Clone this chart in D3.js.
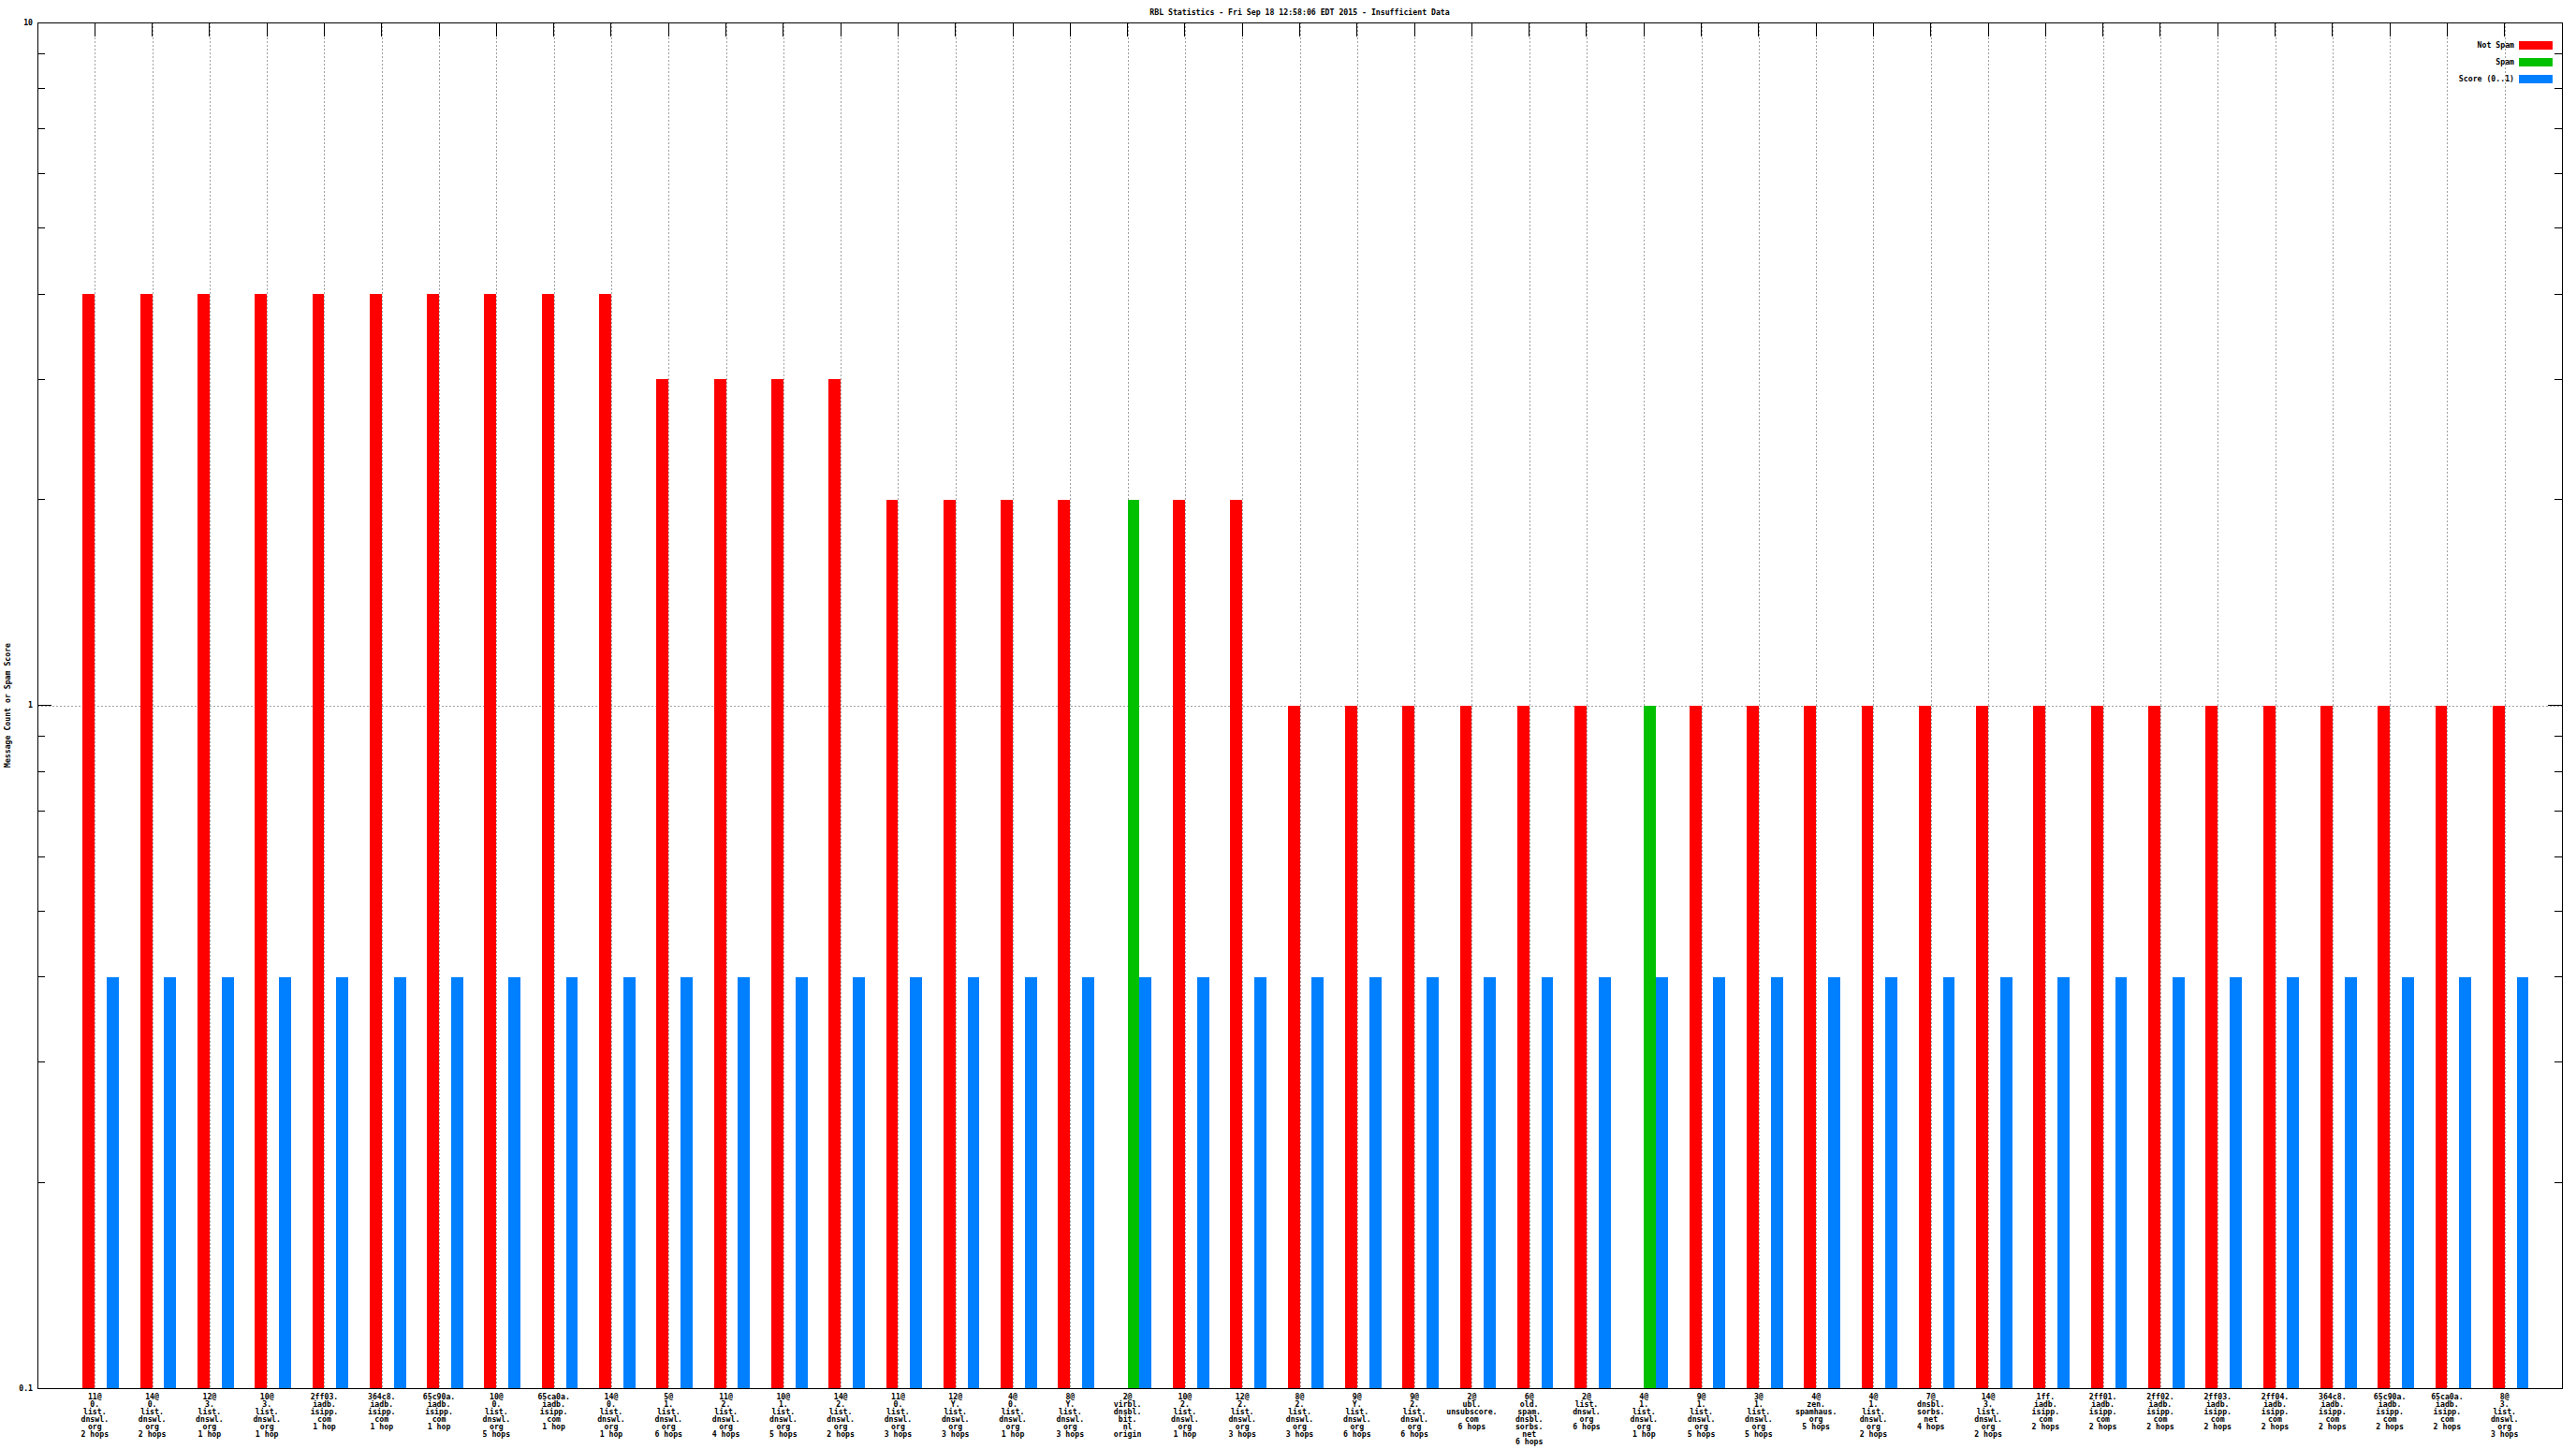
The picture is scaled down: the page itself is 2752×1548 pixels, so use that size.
<!DOCTYPE html>
<html><head><meta charset="utf-8">
<script src="https://cdn.jsdelivr.net/npm/d3@7"></script>
<style>
html,body{margin:0;padding:0;background:#fff;}
svg text{font-family:"DejaVu Sans Mono","Liberation Mono",monospace;font-size:8.2px;font-weight:bold;fill:#000;}
</style></head>
<body>
<svg id="chart" width="2752" height="1548"></svg>
<script>
const title = "RBL Statistics - Fri Sep 18 12:58:06 EDT 2015 - Insufficient Data";
const yLabel = "Message Count or Spam Score";
const seriesNames = ["Not Spam", "Spam", "Score (0..1)"];
const seriesColors = ["#ff0000", "#00c000", "#0080ff"];
const names = [
 "11@0.list.dnswl.org","14@0.list.dnswl.org","12@3.list.dnswl.org","10@3.list.dnswl.org",
 "2ff03.iadb.isipp.com","364c8.iadb.isipp.com","65c90a.iadb.isipp.com","10@0.list.dnswl.org",
 "65ca0a.iadb.isipp.com","14@0.list.dnswl.org","5@1.list.dnswl.org","11@2.list.dnswl.org",
 "10@1.list.dnswl.org","14@2.list.dnswl.org","11@0.list.dnswl.org","12@Y.list.dnswl.org",
 "4@0.list.dnswl.org","8@Y.list.dnswl.org","2@virbl.dnsbl.bit.nl","10@2.list.dnswl.org",
 "12@2.list.dnswl.org","8@2.list.dnswl.org","9@Y.list.dnswl.org","9@2.list.dnswl.org",
 "2@ubl.unsubscore.com","6@old.spam.dnsbl.sorbs.net","2@list.dnswl.org","4@1.list.dnswl.org",
 "9@1.list.dnswl.org","3@1.list.dnswl.org","4@zen.spamhaus.org","4@1.list.dnswl.org",
 "7@dnsbl.sorbs.net","14@3.list.dnswl.org","1ff.iadb.isipp.com","2ff01.iadb.isipp.com",
 "2ff02.iadb.isipp.com","2ff03.iadb.isipp.com","2ff04.iadb.isipp.com","364c8.iadb.isipp.com",
 "65c90a.iadb.isipp.com","65ca0a.iadb.isipp.com","8@3.list.dnswl.org"
];
const hops = [
 "2 hops","2 hops","1 hop","1 hop","1 hop","1 hop","1 hop","5 hops","1 hop","1 hop",
 "6 hops","4 hops","5 hops","2 hops","3 hops","3 hops","1 hop","3 hops","origin","1 hop",
 "3 hops","3 hops","6 hops","6 hops","6 hops","6 hops","6 hops","1 hop","5 hops","5 hops",
 "5 hops","2 hops","4 hops","2 hops","2 hops","2 hops","2 hops","2 hops","2 hops","2 hops",
 "2 hops","2 hops","3 hops"
];
const notSpam = [4,4,4,4,4,4,4,4,4,4,3,3,3,3,2,2,2,2,0,2,2,1,1,1,1,1,1,0,1,1,1,1,1,1,1,1,1,1,1,1,1,1,1];
const spam    = [0,0,0,0,0,0,0,0,0,0,0,0,0,0,0,0,0,0,2,0,0,0,0,0,0,0,0,1,0,0,0,0,0,0,0,0,0,0,0,0,0,0,0];
const score   = [0.4,0.4,0.4,0.4,0.4,0.4,0.4,0.4,0.4,0.4,0.4,0.4,0.4,0.4,0.4,0.4,0.4,0.4,0.4,0.4,0.4,0.4,
                 0.4,0.4,0.4,0.4,0.4,0.4,0.4,0.4,0.4,0.4,0.4,0.4,0.4,0.4,0.4,0.4,0.4,0.4,0.4,0.4,0.4];
const yMajor = [0.1, 1, 10];

const L = 40, R = 2737, T = 24, B = 1483;
const svg = d3.select("#chart");
const n = names.length;
const x = d3.scaleLinear().domain([-1, n]).range([L, R]);
const y = d3.scaleLog().domain([0.1, 10]).range([B, T]);
const step = x(1) - x(0);
const w = step * 0.21;

const yMinor = [];
for (const dec of [0.1, 1]) for (let k = 2; k <= 9; k++) yMinor.push(+(dec * k).toFixed(2));

const grid = svg.append("g").attr("stroke", "#a0a0a0").attr("stroke-width", 1).attr("stroke-dasharray", "2,2");
d3.range(n).forEach(i => {
  grid.append("line").attr("x1", Math.round(x(i)) + 0.5).attr("x2", Math.round(x(i)) + 0.5).attr("y1", T).attr("y2", B);
});
yMajor.filter(v => v > 0.1 && v < 10).forEach(v => {
  grid.append("line").attr("x1", L).attr("x2", R).attr("y1", Math.round(y(v)) + 0.5).attr("y2", Math.round(y(v)) + 0.5);
});

// axes frame and ticks
const ax = svg.append("g").attr("stroke", "#000").attr("stroke-width", 1).attr("shape-rendering", "crispEdges");
ax.append("rect").attr("x", L).attr("y", T).attr("width", R - L).attr("height", B - T).attr("fill", "none");
yMajor.forEach(v => {
  const yy = y(v);
  ax.append("line").attr("x1", L).attr("x2", L + 15).attr("y1", yy).attr("y2", yy);
  ax.append("line").attr("x1", R).attr("x2", R - 15).attr("y1", yy).attr("y2", yy);
});
yMinor.forEach(v => {
  const yy = y(v);
  ax.append("line").attr("x1", L).attr("x2", L + 8).attr("y1", yy).attr("y2", yy);
  ax.append("line").attr("x1", R).attr("x2", R - 8).attr("y1", yy).attr("y2", yy);
});
d3.range(n).forEach(i => {
  const xx = x(i);
  ax.append("line").attr("x1", xx).attr("x2", xx).attr("y1", T).attr("y2", T + 15);
});

// bars (drawn over grid and ticks)
const bars = svg.append("g").attr("shape-rendering", "crispEdges");
const series = [notSpam, spam, score];
const offsets = [-1, 0, 1];
series.forEach((arr, s) => {
  bars.selectAll(null).data(arr.map((v, i) => ({v, i})).filter(d => d.v > 0)).enter().append("rect")
    .attr("x", d => x(d.i) + offsets[s] * w)
    .attr("width", w)
    .attr("y", d => y(d.v))
    .attr("height", d => y(0.1) - y(d.v) - 0.5)
    .attr("fill", seriesColors[s]);
});

// y tick labels
svg.append("g").selectAll("text").data(yMajor).enter().append("text")
  .attr("x", L - 5).attr("y", d => y(d)).attr("dy", "0.35em").attr("text-anchor", "end")
  .text(d => d3.format("~g")(d));

// x labels
const lineH = 8;
const xl = svg.append("g");
names.forEach((nm, i) => {
  const parts = nm.match(/[^@.]+[@.]?/g);
  parts.push(hops[i]);
  const t = xl.append("text").attr("x", x(i)).attr("y", B + 12).attr("text-anchor", "middle");
  parts.forEach((p, j) => {
    t.append("tspan").attr("x", x(i)).attr("y", B + 12 + j * lineH).text(p);
  });
});

// title
svg.append("text").attr("x", (L + R) / 2).attr("y", 16).attr("text-anchor", "middle").text(title);

// y label
svg.append("text").attr("transform", `translate(11,${(T + B) / 2}) rotate(-90)`)
  .attr("text-anchor", "middle").text(yLabel);

// legend
const lg = svg.append("g");
seriesNames.forEach((s, k) => {
  const yy = 44 + k * 18;
  lg.append("text").attr("x", 2686).attr("y", yy + 4.5).attr("dy", "0.35em").attr("text-anchor", "end").text(s);
  lg.append("rect").attr("x", 2691).attr("y", yy).attr("width", 36).attr("height", 9).attr("fill", seriesColors[k]);
});
</script>
</body></html>
